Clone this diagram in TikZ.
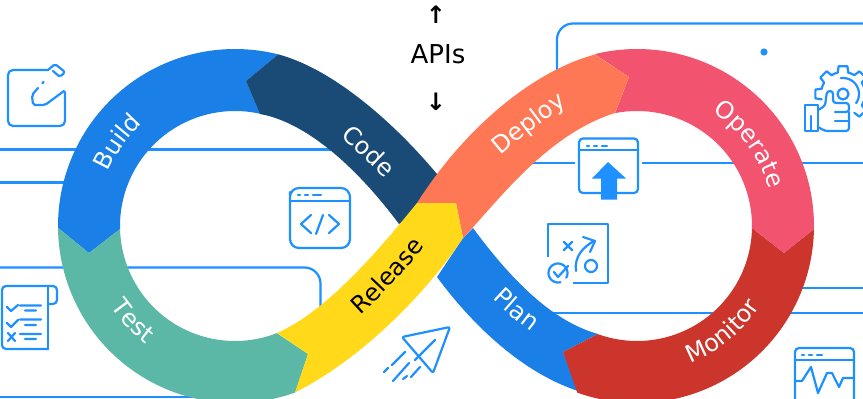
\documentclass[tikz,border=0pt]{standalone}
\usepackage{fontspec}
\usetikzlibrary{decorations.text}
\setmainfont{DejaVu Sans}
\definecolor{lineblue}{HTML}{1E90FF}
\definecolor{cbuild}{HTML}{1A7FE6}
\definecolor{ccode}{HTML}{1A4A76}
\definecolor{cdeploy}{HTML}{FE7855}
\definecolor{coperate}{HTML}{F2536F}
\definecolor{cmonitor}{HTML}{CB352B}
\definecolor{crelease}{HTML}{FFD91A}
\definecolor{ctest}{HTML}{5CB8A6}
\newcommand{\segfont}{\fontsize{24}{28}\selectfont}
\tikzset{
  wire/.style={draw=lineblue,line width=2.2pt,line cap=round,line join=round},
  flat/.style={wire,line cap=butt},
  ringplot/.style={samples=70},
  seglabel/.style={decorate,decoration={text along path,text align=center,text color=#1,
     text={|\segfont|\labeltext}}},
  seglabel/.default=white,
}
\newcommand{\labeltext}{}
\begin{document}
\begin{tikzpicture}[x=1pt,y=-1pt]
\useasboundingbox (0,0) rectangle (863,399);
\fill[white] (0,0) rectangle (863,399);
% background lines
\draw[flat,rounded corners=16pt] (557,75) -- (557,23.5) -- (880,23.5);
\draw[flat] (0,149.5) -- (340,149.5);
\draw[flat] (0,182.5) -- (70,182.5);
\draw[flat,rounded corners=16pt] (0,267.5) -- (320.5,267.5) -- (320.5,315);
\draw[flat] (0,397) -- (200,397);
\draw[flat] (520,163) -- (575,163);
\draw[flat] (642,163) -- (863,163);
\draw[flat] (800,288) -- (863,288);
\draw[flat] (550,312.7) -- (863,312.7);
\fill[lineblue] (764,52) circle[radius=3.6pt];
% ring segments
\fill[cbuild] plot[ringplot,domain=179.4:284.2] ({235+177*cos(\x)},{226+177*sin(\x)}) -- (246,81) -- plot[ringplot,domain=282.6:178.5] ({235+115*cos(\x)},{226+115*sin(\x)}) -- (89,253) -- cycle;
\fill[ccode] (278.3,54.4) .. controls (330,68) and (395,120) .. (450,190) -- (399,224) .. controls (355,165) and (305,122) .. (260,114) -- (246,81) -- cycle;
\fill[ctest] plot[ringplot,domain=179.4:70.1] ({235+177*cos(\x)},{226+177*sin(\x)}) -- (308,354) -- plot[ringplot,domain=68.7:178.5] ({235+115*cos(\x)},{226+115*sin(\x)}) -- (89,253) -- cycle;
\fill[cbuild] (473,228) .. controls (515,285) and (555,322) .. (598,334) -- (563,352) -- (578,391) .. controls (515,370) and (465,315) .. (437,277) -- (463,238) -- cycle;
\fill[cmonitor] plot[ringplot,domain=1:109.7] ({637+177*cos(\x)},{226+177*sin(\x)}) -- (563,352) -- plot[ringplot,domain=109.9:1] ({637+115*cos(\x)},{226+115*sin(\x)}) -- (784,253) -- cycle;
\fill[coperate] plot[ringplot,domain=256.2:361] ({637+177*cos(\x)},{226+177*sin(\x)}) -- (784,253) -- plot[ringplot,domain=361:259] ({637+115*cos(\x)},{226+115*sin(\x)}) -- (629,77) -- cycle;
\fill[cdeploy] (595,54.5) .. controls (540,69) and (470,120) .. (417,203) -- (456,203) -- (463,238) .. controls (495,205) and (545,135) .. (615,113) -- (629,77) -- cycle;
\fill[crelease] (277,333) .. controls (325,312) and (375,255) .. (417,203) -- (456,203) -- (463,238) .. controls (425,295) and (360,360) .. (295,392.4) -- (308,354) -- cycle;
% labels
\renewcommand{\labeltext}{Build}
\path[seglabel] plot[samples=40,domain=175:256] ({235+138*cos(\x)},{226+138*sin(\x)});
\renewcommand{\labeltext}{Operate}
\path[seglabel] plot[samples=40,domain=284:364] ({637+137*cos(\x)},{226+137*sin(\x)});
\renewcommand{\labeltext}{Monitor}
\path[seglabel] plot[samples=40,domain=91:11] ({637+147*cos(\x)},{226+147*sin(\x)});
\renewcommand{\labeltext}{Test}
\path[seglabel] plot[samples=40,domain=177:97] ({235+148*cos(\x)},{226+148*sin(\x)});
\renewcommand{\labeltext}{Code}
\path[seglabel] (317,116) .. controls (342,136) and (382,175) .. (407,200);
\renewcommand{\labeltext}{Deploy}
\path[seglabel] (478,177) .. controls (513,142) and (563,107) .. (593,87);
\renewcommand{\labeltext}{Release}
\path[seglabel=black] (340,331) .. controls (370,311) and (410,266) .. (440,226);
\renewcommand{\labeltext}{Plan}
\path[seglabel] (467,272) .. controls (492,302) and (527,332) .. (562,352);
\node[font=\fontsize{26}{30}\selectfont,inner sep=0pt] (apis) at (438,54) {APIs};
\node[font=\bfseries\fontsize{24}{28}\selectfont,inner sep=0pt] (up) at (436,15) {↑};
\node[font=\bfseries\fontsize{24}{28}\selectfont,inner sep=0pt] (down) at (436,102) {↓};
% edit icon
\draw[wire,rounded corners=5pt] (48,70) -- (8,70) -- (8,126) -- (65,126) -- (65,92);
\draw[wire,rounded corners=2pt] (48,70) -- (55,64) -- (65,72) -- (60,77) -- (53,71);
\draw[wire,rounded corners=2pt] (64,91) -- (45,105) -- (33,105) -- (32,95) -- (38,88);
\draw[wire] (42.5,83) -- (43.5,82);
% code window icon
\draw[wire,rounded corners=9pt] (290,201) -- (290,188) -- (350,188) -- (350,248) -- (290,248) -- cycle;
\draw[wire] (290,201) -- (350,201);
\draw[wire] (298,195) -- (300,195) (305,195) -- (308,195) (313,195) -- (321,195);
\draw[wire] (311,215) -- (301,224) -- (311,233);
\draw[wire] (329,215) -- (339,224) -- (329,233);
\draw[wire] (323,215) -- (316,234);
% deploy icon
\draw[wire,rounded corners=4pt] (579,150) -- (579,138.5) -- (638,138.5) -- (638,193) -- (579,193) -- cycle;
\draw[wire] (579,150) -- (638,150);
\draw[wire] (587,146) -- (589,146) (594,146) -- (597,146) (602,146) -- (607,146);
\fill[lineblue] (608,162) -- (626,178.5) -- (617,178.5) -- (617,199.5) -- (601,199.5) -- (601,178.5) -- (592,178.5) -- cycle;
% plan icon
\draw[flat] (548,257) -- (548,224) -- (608,224) -- (608,283) -- (573,283);
\draw[wire] (564,242) -- (572,250) (572,242) -- (564,250);
\draw[wire] (576,271) .. controls (574,257) and (583,247) .. (594,241);
\draw[wire] (583,237) -- (595,241) -- (590,252);
\draw[wire] (591,266) circle[radius=6pt];
\draw[wire] plot[domain=-30:285,samples=30] ({558+9.5*cos(-\x)},{273+9.5*sin(-\x)});
\draw[wire] (554,272) -- (558,277) -- (568,266);
% plane icon
\draw[wire,rounded corners=2pt] (402,337) -- (450,327) -- (433,373) -- cycle;
\draw[wire] (435,340) -- (415,360);
\draw[wire] (405,352) -- (392,365) (388,368) -- (384,372) (409,363) -- (393,381) (407,376) -- (403,379) (420,367) -- (411,377);
% checklist icon
\draw[wire,rounded corners=4pt] (48,349) -- (2,349) -- (2,286) -- (57,286) -- (57,304) -- (48,304);
\draw[wire] (48,286) -- (48,349);
\draw[wire] (7,307) -- (11,311) -- (18,305) (20,305.5) -- (41,305.5) (25,310.5) -- (36,310.5);
\draw[wire] (7,323) -- (11,327) -- (18,320) (20,319.5) -- (41,319.5) (25,325) -- (36,325);
\draw[wire] (8,333) -- (15,341) (15,333) -- (8,341) (20,334) -- (41,334) (25,339) -- (36,339);
% monitor icon
\draw[wire,rounded corners=4pt] (795,405) -- (795,348) -- (854,348) -- (854,405);
\draw[wire] (795,360) -- (854,360);
\draw[wire] (802,355) -- (804,355) (809,355) -- (812,355) (817,355) -- (822,355);
\draw[wire] (795,381) -- (802,381) -- (811,367) -- (818,393) -- (827,373) -- (832,373) -- (839,387) -- (843,378) -- (854,378);
% gear and hand icon
\begin{scope}[shift={(843,94)}]
\foreach \a in {180,225,270,315,360,405}{
  \draw[wire] ({22*cos(\a-14)},{22*sin(\a-14)}) -- ({28*cos(\a-9)},{28*sin(\a-9)}) -- ({28*cos(\a+9)},{28*sin(\a+9)}) -- ({22*cos(\a+14)},{22*sin(\a+14)});
}
\foreach \a in {202,247,292,337,382}{
  \draw[wire] plot[domain=\a-9:\a+9,samples=6] ({22*cos(\x)},{22*sin(\x)});
}
\draw[wire] plot[domain=262:395,samples=20] ({16*cos(\x)},{16*sin(\x)});
\draw[wire] (0,0) circle[radius=5.5pt];
\end{scope}
\fill[white] (826,94) rectangle (835,104);
\draw[wire] (805,105) -- (818,105) -- (818,131) -- (805,131) -- cycle;
\draw[wire] (811,116) -- (811,130);
\draw[wire,rounded corners=3pt] (818,110) -- (825,106) -- (827,91) -- (833,91) -- (833,103) -- (849,103) -- (849,112) -- (835,112);
\draw[wire,rounded corners=3pt] (849,112) -- (849,131) -- (825,131) -- (818,127);
\draw[wire] (835,121) -- (849,121);
\end{tikzpicture}
\end{document}
